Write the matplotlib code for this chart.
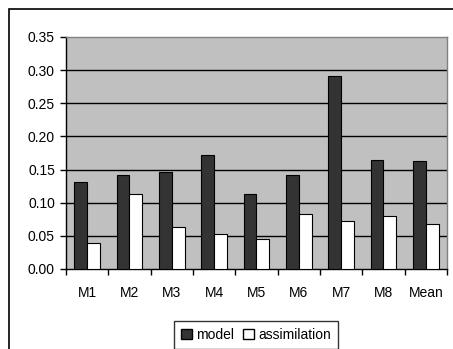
import matplotlib
matplotlib.use("Agg")
import matplotlib.pyplot as plt
import numpy as np
from matplotlib.patches import Rectangle, Patch

categories = ["M1", "M2", "M3", "M4", "M5", "M6", "M7", "M8", "Mean"]
model = [0.132, 0.142, 0.147, 0.172, 0.113, 0.142, 0.291, 0.164, 0.163]
assimilation = [0.039, 0.113, 0.063, 0.053, 0.045, 0.083, 0.072, 0.080, 0.068]
yticks = [0.00, 0.05, 0.10, 0.15, 0.20, 0.25, 0.30, 0.35]

plt.rcParams['font.family'] = ['Liberation Sans', 'DejaVu Sans']
W, H = 453, 349
fig = plt.figure(figsize=(W/100, H/100), dpi=100)

# outer border
fig.patches.append(Rectangle((9/W, -0.1), 1.2, (H-9)/H + 0.1, transform=fig.transFigure,
                             fill=False, edgecolor='black', linewidth=1.2, zorder=0))

left, right, top, bottom = 66, 447, 37, 269
ax = fig.add_axes([left/W, 1-bottom/H, (right-left)/W, (bottom-top)/H])
ax.set_facecolor('#C0C0C0')

x = np.arange(len(categories))
bw = 0.3
ax.bar(x - bw/2, model, width=bw, color='#333333', edgecolor='black', linewidth=0.8, zorder=3, label='model')
ax.bar(x + bw/2, assimilation, width=bw, color='white', edgecolor='black', linewidth=0.8, zorder=3, label='assimilation')

ax.set_xlim(-0.5, len(categories)-0.5)
ax.set_ylim(0, 0.35)
ax.set_yticks(yticks)
ax.set_yticklabels([f"{v:.2f}" for v in yticks], fontsize=10)
for v in yticks[1:-1]:
    ax.axhline(v, color='black', linewidth=1.0, zorder=1)

ax.set_xticks(np.arange(len(categories)+1) - 0.5)
ax.set_xticklabels([])
ax.set_xticks(x, minor=True)
ax.set_xticklabels(categories, minor=True, fontsize=10)
ax.tick_params(axis='x', which='major', direction='out', length=4, width=1, color='black')
ax.tick_params(axis='x', which='minor', length=0, pad=12)
ax.tick_params(axis='y', direction='out', length=4, width=1, pad=4)

for s in ['top', 'right']:
    ax.spines[s].set_color('#808080')
    ax.spines[s].set_linewidth(1.0)
for s in ['left', 'bottom']:
    ax.spines[s].set_color('black')
    ax.spines[s].set_linewidth(1.0)

handles = [Patch(facecolor='#333333', edgecolor='black', label='model'),
           Patch(facecolor='white', edgecolor='black', label='assimilation')]
leg = fig.legend(handles=handles, loc='upper center', bbox_to_anchor=(256/W, 1-321/H),
                 ncol=2, fontsize=10, frameon=True, fancybox=False, shadow=False,
                 handlelength=0.8, handleheight=0.8, handletextpad=0.3, columnspacing=0.6,
                 borderpad=0.5, borderaxespad=0)
leg.get_frame().set_edgecolor('black')
leg.get_frame().set_linewidth(1.0)

fig.savefig("out.png", dpi=100)
